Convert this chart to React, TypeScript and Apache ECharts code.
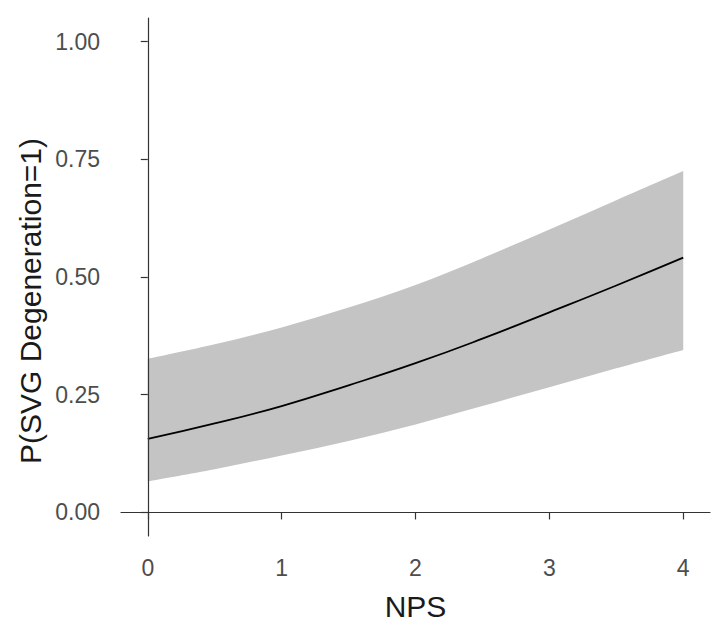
import React, { useEffect, useRef } from "react";
import * as echarts from "echarts";

const npsValues = [0, 0.5, 1, 1.5, 2, 2.5, 3, 3.5, 4];
const fitProb = [0.156, 0.189, 0.226, 0.27, 0.317, 0.369, 0.425, 0.482, 0.541];
const upperCI = [0.326, 0.357, 0.393, 0.435, 0.483, 0.54, 0.601, 0.663, 0.725];
const lowerCI = [0.066, 0.092, 0.121, 0.152, 0.187, 0.226, 0.266, 0.306, 0.345];
const xTicks = [0, 1, 2, 3, 4];
const yTicks = [0, 0.25, 0.5, 0.75, 1];

type Pt = number[];

function splinePath(pts: Pt[], moveFirst: boolean): string {
  let d = moveFirst ? `M${pts[0][0]},${pts[0][1]}` : `L${pts[0][0]},${pts[0][1]}`;
  const n = pts.length;
  for (let i = 0; i < n - 1; i++) {
    const p0 = pts[Math.max(0, i - 1)];
    const p1 = pts[i];
    const p2 = pts[i + 1];
    const p3 = pts[Math.min(n - 1, i + 2)];
    const c1x = p1[0] + (p2[0] - p0[0]) / 6;
    const c1y = p1[1] + (p2[1] - p0[1]) / 6;
    const c2x = p2[0] - (p3[0] - p1[0]) / 6;
    const c2y = p2[1] - (p3[1] - p1[1]) / 6;
    d += ` C${c1x},${c1y} ${c2x},${c2y} ${p2[0]},${p2[1]}`;
  }
  return d;
}

export default function App() {
  const ref = useRef<HTMLDivElement>(null);
  useEffect(() => {
    if (!ref.current) return;
    const chart = echarts.init(ref.current, null, { renderer: "svg" });
    const axisColor = "#333333";
    chart.setOption({
      animation: false,
      backgroundColor: "#ffffff",
      grid: { left: 121, right: 8, top: 18, bottom: 98, containLabel: false },
      xAxis: {
        type: "value",
        min: -0.2,
        max: 4.2,
        z: 10,
        name: "NPS",
        nameLocation: "middle",
        nameGap: 55,
        nameTextStyle: {
          fontFamily: "Liberation Sans",
          fontSize: 30,
          color: "#1a1a1a",
          verticalAlign: "top",
        },
        axisLine: { show: true, lineStyle: { color: axisColor, width: 1.2 } },
        axisTick: {
          show: true,
          length: 7,
          customValues: xTicks,
          lineStyle: { color: axisColor, width: 1.2 },
        },
        axisLabel: {
          customValues: xTicks,
          margin: 20,
          fontFamily: "Liberation Sans",
          fontSize: 23,
          color: "#4d4d4d",
          formatter: (v: number) => String(v),
        },
        splitLine: { show: false },
      },
      yAxis: {
        type: "value",
        min: -0.05,
        max: 1.05,
        z: 10,
        axisLine: { show: true, lineStyle: { color: axisColor, width: 1.2 } },
        axisTick: {
          show: true,
          length: 7,
          customValues: yTicks,
          lineStyle: { color: axisColor, width: 1.2 },
        },
        axisLabel: {
          customValues: yTicks,
          margin: 21,
          fontFamily: "Liberation Sans",
          fontSize: 23,
          color: "#4d4d4d",
          formatter: (v: number) => v.toFixed(2),
        },
        splitLine: { show: false },
      },
      graphic: [
        {
          type: "text",
          x: 30,
          y: 301,
          rotation: Math.PI / 2,
          style: {
            text: "P(SVG Degeneration=1)",
            fontFamily: "Liberation Sans",
            fontSize: 30,
            fill: "#1a1a1a",
            textAlign: "center",
            textVerticalAlign: "middle",
          },
        },
      ],
      series: [
        {
          type: "custom",
          name: "95% CI",
          silent: true,
          z: 1,
          data: npsValues.map((x, i) => [x, lowerCI[i], upperCI[i]]),
          encode: { x: 0, y: [1, 2] },
          renderItem: (params: any, api: any) => {
            if (params.dataIndex !== 0) return null;
            const up = npsValues.map((x, i) => api.coord([x, upperCI[i]]));
            const lo = npsValues
              .map((x, i) => api.coord([x, lowerCI[i]]))
              .reverse();
            const d = splinePath(up, true) + " " + splinePath(lo, false) + " Z";
            return {
              type: "path",
              shape: { pathData: d },
              style: { fill: "#c4c4c4", stroke: "none" },
            };
          },
        },
        {
          type: "line",
          name: "fit",
          data: npsValues.map((x, i) => [x, fitProb[i]]),
          smooth: true,
          symbol: "none",
          lineStyle: { color: "#000000", width: 1.8 },
          z: 5,
        },
      ],
    });
    return () => chart.dispose();
  }, []);
  return (
    <div
      ref={ref}
      style={{ position: "absolute", left: 0, top: 0, width: 718, height: 634 }}
    />
  );
}
